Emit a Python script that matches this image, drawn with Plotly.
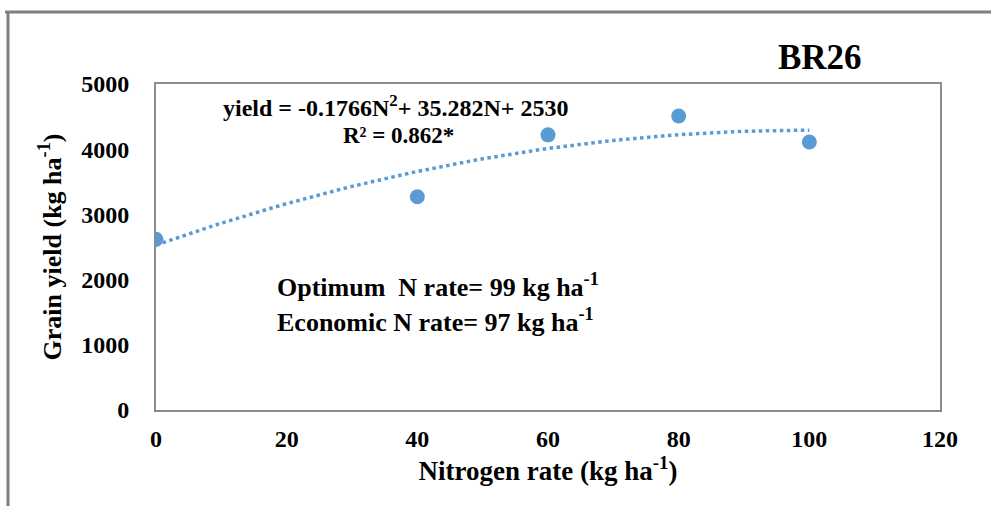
import numpy as np
import plotly.graph_objects as go

# Observed grain yield at each nitrogen rate
n_rate = [0, 40, 60, 80, 100]
grain_yield = [2620, 3270, 4220, 4510, 4110]

# Quadratic trend coefficients (yield = a*N^2 + b*N + c)
coef_a = -0.1766
coef_b = 35.282
coef_c = 2530
r_squared = "0.862*"

x_ticks = [0, 20, 40, 60, 80, 100, 120]
y_ticks = [0, 1000, 2000, 3000, 4000, 5000]

blue = "#5B9BD5"
axis_grey = "#8C8C8C"
font_family = "Liberation Serif, Times New Roman, serif"

trend_x = np.linspace(0, 100, 101)
trend_y = coef_a * trend_x ** 2 + coef_b * trend_x + coef_c

fig = go.Figure()
fig.add_trace(go.Scatter(
    x=trend_x, y=trend_y, mode="lines",
    line=dict(color=blue, width=3.5, dash="dot"),
    hoverinfo="skip", showlegend=False,
))
fig.add_trace(go.Scatter(
    x=n_rate, y=grain_yield, mode="markers",
    marker=dict(color=blue, size=15),
    showlegend=False,
))

# Plot area spans 156..940 px horizontally, 84..410 px vertically
L, R, T, B = 156, 51, 84, 96
W, H = 991, 506
pw, ph = W - L - R, H - T - B


def px_x(px):
    return (px - L) / pw


def px_y(py):
    return (H - B - py) / ph


def label(text, x, y, size, anchor="center"):
    return dict(text=text, xref="paper", yref="paper",
                x=px_x(x), y=px_y(y), xanchor=anchor, yanchor="middle",
                showarrow=False, font=dict(size=size, family=font_family))


fig.update_layout(
    width=W, height=H,
    margin=dict(l=L, r=R, t=T, b=B),
    paper_bgcolor="white", plot_bgcolor="white",
    font=dict(family=font_family, color="black"),
    xaxis=dict(
        range=[0, 120], tickvals=x_ticks, showgrid=False, zeroline=False,
        showline=True, linecolor=axis_grey, linewidth=2, mirror=True,
        ticks="", ticklabelstandoff=6,
        tickfont=dict(size=24, family=font_family, color="black", weight="bold"),
        title=dict(text="<b>Nitrogen rate (kg ha<sup>-1</sup>)</b>",
                   font=dict(size=27, family=font_family), standoff=4),
    ),
    yaxis=dict(
        range=[0, 5000], tickvals=y_ticks, showgrid=False, zeroline=False,
        showline=True, linecolor=axis_grey, linewidth=2, mirror=True,
        ticks="", ticklabelstandoff=20,
        tickfont=dict(size=24, family=font_family, color="black", weight="bold"),
        title=dict(text="<b>Grain yield (kg ha<sup>-1</sup>)</b>",
                   font=dict(size=26, family=font_family), standoff=12),
    ),
    shapes=[
        dict(type="line", xref="paper", yref="paper",
             x0=px_x(5), x1=px_x(995), y0=px_y(12), y1=px_y(12),
             line=dict(color="#7F7F7F", width=3)),
        dict(type="line", xref="paper", yref="paper",
             x0=px_x(8), x1=px_x(8), y0=px_y(12), y1=px_y(510),
             line=dict(color="#7F7F7F", width=3)),
    ],
    annotations=[
        label("<b>BR26</b>", 820, 57, 35),
        label(f"<b>yield = {coef_a}N<sup>2</sup>+ {coef_b}N+ {coef_c}</b>", 395, 106, 24),
        label(f"<b>R² = {r_squared}</b>", 398, 135, 23),
        label("<b>Optimum  N rate= 99 kg ha<sup>-1</sup></b>", 275, 285, 26, "left"),
        label("<b>Economic N rate= 97 kg ha<sup>-1</sup></b>", 275, 320, 26, "left"),
    ],
)

fig.write_html("out.html")
